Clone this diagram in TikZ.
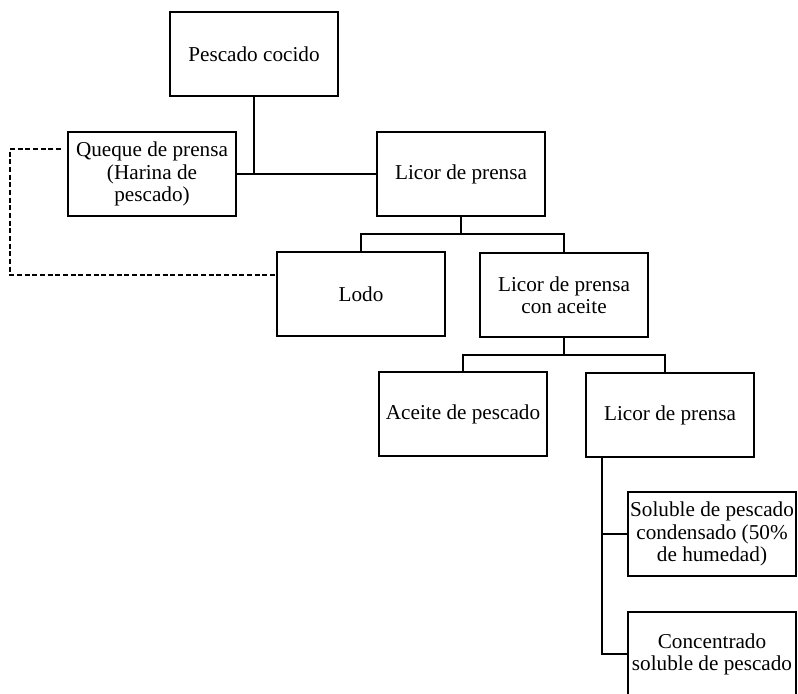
\documentclass[tikz,border=0pt]{standalone}
\usepackage{fontspec}
\setmainfont{Liberation Serif}
\usepackage{tikz}
\usetikzlibrary{calc}

\begin{document}
\begin{tikzpicture}[x=0.75pt,y=0.75pt,yscale=-1,xscale=1,
  procbox/.style={draw, line width=1.5pt, minimum width=126pt, minimum height=63pt,
    inner sep=0pt, align=center, font=\fontsize{15.9}{16.6}\selectfont},
  link/.style={line width=1.5pt},
  linkdash/.style={line width=0.9pt, dash pattern=on 3.75pt off 2pt}]
\useasboundingbox (0,0) rectangle (798,693);

% Text Node
\node [procbox] (pescado) at (254,54) {Pescado cocido};
% Text Node
\node [procbox] (queque) at (152,174) {Queque de prensa\\(Harina de\\pescado)};
% Text Node
\node [procbox] (licor) at (461,174) {Licor de prensa};
% Text Node
\node [procbox] (lodo) at (361,294) {Lodo};
% Text Node
\node [procbox] (licoraceite) at (564,295) {Licor de prensa\\con aceite};
% Text Node
\node [procbox] (aceite) at (463,414) {Aceite de pescado};
% Text Node
\node [procbox] (licordos) at (670,415) {Licor de prensa};
% Text Node
\node [procbox] (soluble) at (712,534) {Soluble de pescado\\condensado (50\%\\de humedad)};
% Text Node
\node [procbox] (concentrado) at (712,654) {Concentrado\\soluble de pescado};

% Connection
\draw [link] (queque.east) -- (queque.east -| licor.west);
\draw [link] (pescado.south) -- (pescado.south |- queque.east);
% Connection
\draw [link] (licor.south) -- ++(0,17) coordinate (splitA);
\draw [link] (lodo.north) |- (splitA) -| (licoraceite.north);
% Connection
\draw [link] (licoraceite.south) -- ++(0,17) coordinate (splitB);
\draw [link] (aceite.north) |- (splitB) -| ([xshift=-3.75pt]licordos.north);
% Connection
\draw [link] ([xshift=12.75pt]licordos.south west) coordinate (splitC) |- (concentrado.west);
\draw [link] (soluble.west) -- (soluble.west -| splitC);
% Connection (dashed return)
\coordinate (dashcorner) at (10,275);
\draw [linkdash] ($(queque.west)+(-6,-25)$) -| (dashcorner) -- ($(lodo.west)+(0,-19)$);

\end{tikzpicture}
\end{document}
